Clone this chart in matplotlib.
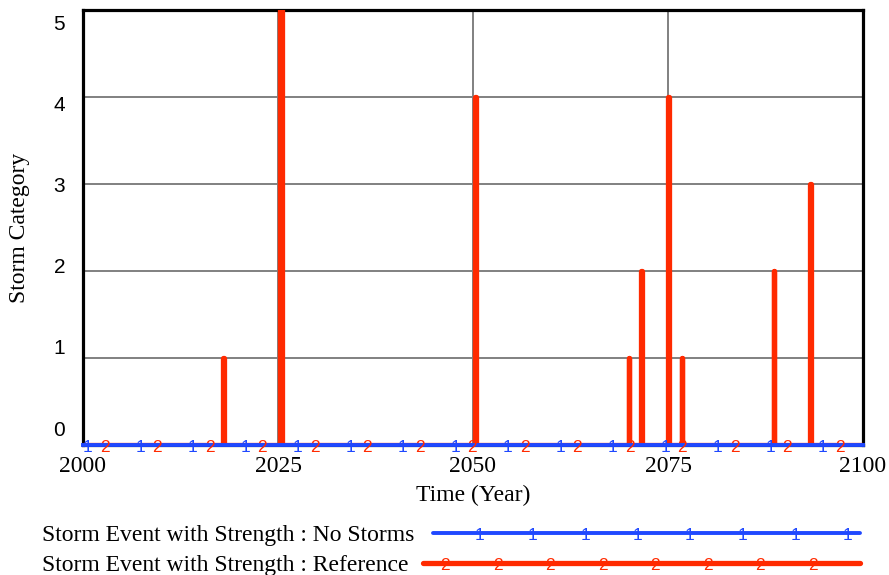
import matplotlib
matplotlib.use("Agg")
import matplotlib.pyplot as plt
import matplotlib.transforms as mtransforms
import numpy as np

# ---------------- data ----------------
years_start, years_end = 2000, 2100
# storm events in the "Reference" run: start time, end time, category
spike_start = [2017.95, 2025.25, 2050.25, 2069.95, 2071.55, 2074.95, 2076.75, 2088.55, 2093.25]
spike_end   = [2018.05, 2025.50, 2050.35, 2070.05, 2071.65, 2075.10, 2076.85, 2088.65, 2093.35]
spike_cat   = [1, 5, 4, 1, 2, 4, 1, 2, 3]
# "No Storms" run: always zero
no_storm_times = [2000, 2100]
no_storm_vals = [0, 0]

x_ticks = [2000, 2025, 2050, 2075, 2100]
y_ticks = [0, 1, 2, 3, 4, 5]
series_names = ["Storm Event with Strength : No Storms",
                "Storm Event with Strength : Reference"]
series_marks = ["1", "2"]

BLUE = "#1f48ff"
RED = "#ff2a00"
SERIF = "Liberation Serif"
SANS = "Liberation Sans"
plt.rcParams["font.family"] = [SERIF, "DejaVu Serif"]

# build reference time series from the event table
ref_t = [years_start]
ref_v = [0]
for s, e, c in zip(spike_start, spike_end, spike_cat):
    ref_t += [s, s, e, e]
    ref_v += [0, c, c, 0]
ref_t.append(years_end)
ref_v.append(0)

# ---------------- figure ----------------
W, H = 889, 575
fig = plt.figure(figsize=(W / 100, H / 100), dpi=100)
L, R, T, B = 83, 863, 10, 445
ax = fig.add_axes([L / W, 1 - B / H, (R - L) / W, (B - T) / H])
ax.set_xlim(years_start, years_end)
ax.set_ylim(0, 5)

# grid
for xv in x_ticks[1:-1]:
    ax.axvline(xv, color="#808080", lw=1.4, zorder=1)
for yv in y_ticks[1:-1]:
    ax.axhline(yv, color="#808080", lw=1.4, zorder=1)

for sp in ax.spines.values():
    sp.set_color("black")
    sp.set_linewidth(2.3)
    sp.set_zorder(2)

# series
ax.plot(ref_t, ref_v, color=RED, lw=3.8, solid_joinstyle="round",
        solid_capstyle="butt", zorder=3, clip_on=True)
ax.plot(no_storm_times, no_storm_vals, color=BLUE, lw=2.8, zorder=4, clip_on=False)

# number markers on the lines (Vensim style)
xtrans = ax.get_xaxis_transform()
off = mtransforms.ScaledTranslation(0, 5 / 100, fig.dpi_scale_trans)
step = 6.73
for k in range(15):
    ax.text(2000.6 + k * step, 0, series_marks[0], transform=xtrans + off,
            ha="center", va="top", color=BLUE, fontsize=12.5,
            family=SANS, clip_on=False, zorder=6)
    ax.text(2002.8 + k * step, 0, series_marks[1], transform=xtrans + off,
            ha="center", va="top", color=RED, fontsize=12.5,
            family=SANS, clip_on=False, zorder=5)

# ticks
ax.set_xticks([])
ax.set_yticks([])
xlab_off = mtransforms.ScaledTranslation(0, -21 / 100, fig.dpi_scale_trans)
for v in x_ticks:
    ax.text(v, 0, str(v), transform=xtrans + xlab_off, ha="center",
            va="center", family=SERIF, fontsize=17, clip_on=False)
for v in y_ticks:
    ypx = 430 - v * 81.2
    ax.text(-0.023, (B - ypx) / (B - T), str(v), transform=ax.transAxes,
            ha="right", va="center", family=SANS, fontsize=15)

fig.text(473 / W, 1 - 495 / H, "Time (Year)", ha="center", va="center",
         family=SERIF, fontsize=17)
fig.text(20 / W, 1 - 228 / H, "Storm Category", ha="center", va="center",
         rotation=90, family=SERIF, fontsize=17)

# legend (drawn in pixel coordinates of an overlay axes)
lax = fig.add_axes([0, 0, 1, 1], facecolor="none")
lax.set_xlim(0, W)
lax.set_ylim(H, 0)
lax.axis("off")
leg_y = [533, 563]
leg_x0 = [433, 423]
leg_mark_x0 = [480, 445]
for i, (name, col) in enumerate(zip(series_names, [BLUE, RED])):
    lax.text(42, leg_y[i] + 3, name, ha="left", va="center", family=SERIF,
             fontsize=17)
    lax.plot([leg_x0[i], 860], [leg_y[i], leg_y[i]], color=col,
             lw=2.8 if i == 0 else 3.8, solid_capstyle="round")
    for k in range(8):
        lax.text(leg_mark_x0[i] + k * 52.5, leg_y[i] - 5, series_marks[i],
                 ha="center", va="top", color=col, fontsize=12.5, family=SANS)

fig.savefig("out.png", dpi=100)
